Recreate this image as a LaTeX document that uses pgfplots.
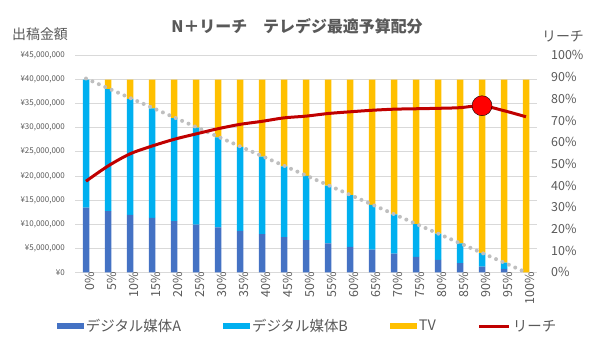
\documentclass[border=0pt]{standalone}
\usepackage{fontspec}
\setmainfont{Noto Sans CJK JP}
\usepackage{pgfplots}
\pgfplotsset{compat=1.18}
\definecolor{dA}{HTML}{4472C4}
\definecolor{dB}{HTML}{00B0F0}
\definecolor{tv}{HTML}{FFC000}
\definecolor{reach}{HTML}{C00000}
\definecolor{txt}{HTML}{595959}
\definecolor{gridc}{HTML}{D9D9D9}
\definecolor{dotc}{HTML}{BFBFBF}
\begin{document}
\begin{tikzpicture}[x=1bp,y=1bp]
\path (0,0) rectangle (600,354);
\begin{axis}[
  at={(75bp,81.7bp)}, anchor=south west, scale only axis,
  width=462bp, height=216.9bp,
  xmin=-0.5, xmax=20.5, ymin=0, ymax=45,
  ybar stacked, bar width=6.5bp,
  axis x line*=bottom, axis y line*=left,
  x axis line style={gridc, line width=0.8bp},
  y axis line style={draw=none},
  major tick length=0pt,
  ymajorgrids, grid style={gridc, line width=0.8bp},
  xtick={0,...,20},
  xticklabels={0\%,5\%,10\%,15\%,20\%,25\%,30\%,35\%,40\%,45\%,50\%,55\%,60\%,65\%,70\%,75\%,80\%,85\%,90\%,95\%,100\%},
  x tick label style={rotate=90, anchor=east, inner sep=0pt, yshift=-4bp, font=\fontsize{12.5}{12.5}\selectfont, text=txt},
  ytick={0,5,...,45},
  yticklabels={{¥0},{¥5,000,000},{¥10,000,000},{¥15,000,000},{¥20,000,000},{¥25,000,000},{¥30,000,000},{¥35,000,000},{¥40,000,000},{¥45,000,000}},
  y tick label style={anchor=east, inner sep=0pt, xshift=-10bp, font=\fontsize{8}{8}\selectfont, text=txt},
  legend columns=4,
  legend style={at={(-0.0396,-0.249)}, anchor=west, draw=none, fill=none, inner sep=0pt,
    font=\fontsize{14.5}{14.5}\selectfont, text=txt,
    /tikz/every even column/.append style={column sep=40bp}},
]
\addplot[fill=dA, draw=none, legend image code/.code={\fill[dA] (0bp,-3bp) rectangle (27bp,3bp);}] coordinates {
(0,13.4) (1,12.7) (2,11.9) (3,11.3) (4,10.6) (5,9.9) (6,9.3) (7,8.6) (8,7.9) (9,7.3) (10,6.7)
(11,6.0) (12,5.3) (13,4.7) (14,3.9) (15,3.2) (16,2.6) (17,1.9) (18,1.2) (19,0.7) (20,0)};
\addlegendentry{デジタル媒体A}
\addplot[fill=dB, draw=none, legend image code/.code={\fill[dB] (0bp,-3bp) rectangle (27bp,3bp);}] coordinates {
(0,26.6) (1,25.3) (2,24.1) (3,22.7) (4,21.4) (5,20.1) (6,18.7) (7,17.4) (8,16.1) (9,14.7) (10,13.3)
(11,12.0) (12,10.7) (13,9.3) (14,8.1) (15,6.8) (16,5.4) (17,4.1) (18,2.8) (19,1.3) (20,0)};
\addlegendentry{デジタル媒体B}
\addplot[fill=tv, draw=none, legend image code/.code={\fill[tv] (0bp,-3bp) rectangle (27bp,3bp);}] coordinates {
(0,0) (1,2) (2,4) (3,6) (4,8) (5,10) (6,12) (7,14) (8,16) (9,18) (10,20)
(11,22) (12,24) (13,26) (14,28) (15,30) (16,32) (17,34) (18,36) (19,38) (20,40)};
\addlegendentry{TV}
\addlegendimage{legend image code/.code={\draw[reach, line width=3bp] (0bp,0bp) -- (30bp,0bp);}}
\addlegendentry{リーチ}
\end{axis}
\begin{axis}[
  at={(75bp,81.7bp)}, anchor=south west, scale only axis,
  width=462bp, height=216.9bp,
  xmin=-0.5, xmax=20.5, ymin=0, ymax=45,
  hide axis,
]
\addplot[dotc, line width=4bp, line cap=round, dash pattern=on 0bp off 7bp] coordinates {(0,40.2) (20,0)};
\end{axis}
\begin{axis}[
  at={(75bp,81.7bp)}, anchor=south west, scale only axis,
  width=462bp, height=216.9bp,
  xmin=-0.5, xmax=20.5, ymin=0, ymax=100,
  axis x line=none, axis y line*=right, y axis line style={draw=none},
  major tick length=0pt,
  ytick={0,10,...,100},
  yticklabels={0\%,10\%,20\%,30\%,40\%,50\%,60\%,70\%,80\%,90\%,100\%},
  y tick label style={anchor=west, inner sep=0pt, xshift=14bp, font=\fontsize{12.5}{12.5}\selectfont, text=txt},
]
\addplot[reach, line width=3bp, smooth, mark=none] coordinates {
(0,42.0) (1,49.0) (2,54.6) (3,58.2) (4,61.3) (5,63.8) (6,66.2) (7,68.2) (8,69.6) (9,71.2) (10,72.0)
(11,73.2) (12,74.0) (13,74.7) (14,75.2) (15,75.4) (16,75.6) (17,75.9) (18,76.8) (19,74.5) (20,71.7)};
\addplot[only marks, mark=*, mark size=10bp, mark options={fill=red, draw=none}] coordinates {(18,76.8)};
\end{axis}
\node[font=\bfseries\fontsize{16}{16}\selectfont, text=txt] at (297,327.5) {N＋リーチ　テレデジ最適予算配分};
\node[font=\fontsize{14}{14}\selectfont, text=txt] at (40,320) {出稿金額};
\node[font=\fontsize{14}{14}\selectfont, text=txt] at (563,317.5) {リーチ};
\end{tikzpicture}
\end{document}
